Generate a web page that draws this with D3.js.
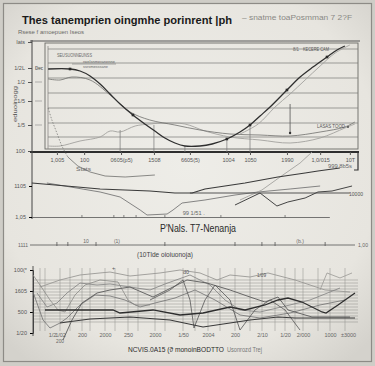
<!DOCTYPE html>
<html><head><meta charset="utf-8">
<script src="https://cdn.jsdelivr.net/npm/d3@7"></script>
<style>html,body{margin:0;padding:0;background:#d8d6d0;} svg{display:block;}</style>
</head><body><svg id="c" width="375" height="366"></svg>
<script>
// ---------------- DATA ----------------
const titleText = "Thes tanemprien oingmhe porinrent |ph";
const subtitleText = "– snatme toaPosmman 7 2?F";
const noteText = "Rsese f amoepuen Iseos";
const unitText = "Iats";
const topYLabel = "eduoinogg";

// top panel
const topYTicks = [1, 27, 51, 70, 84, 110];
const topYTickLabels = ["100", "1/5", "1/5", "1/2", "1/2L", unitText];
const topGrid = [103, 89, 74, 59, 44, 29, 15];
const topXTicks = [3.8, 12.5, 24.3, 34.8, 46.3, 58.5, 65.5, 77.3, 87.9, 97.4];
const topXTickLabels = ["1,005", "100", "0605(p5)", "1508", "6605(5)", "1004", "1050", "1990", "1,0/015", "10T"];

const topMainX = [1.0, 8.0, 11.2, 14.4, 17.6, 20.8, 24.0, 28.1, 31.9, 35.1, 38.3, 41.5, 44.7, 49.5, 53.4, 58.1, 62.3, 65.5, 68.7, 71.9, 77.3, 81.5, 85.6, 90.1, 93.3, 95.8];
const topMainY = [83, 83, 81, 76, 68, 58, 48, 37, 28, 21, 14, 9, 6, 6, 8, 13, 20, 27, 36, 45, 62, 75, 85, 95, 102, 106];
const topGrayBX = [1.0, 4.8, 8.6, 14.4, 20.8, 27.2, 33.5, 41.5, 49.5, 59.1, 68.7, 78.3, 87.9, 95.8, 99.0];
const topGrayBY = [73, 72, 75, 72, 57, 40, 32, 27, 22, 18, 17, 16, 20, 25, 30];
const topGrayCX = [1.0, 4.8, 11.2, 17.6, 20.8, 24.0, 28.8, 33.5, 38.3, 44.7, 51.1, 59.1, 68.7, 78.3, 87.9, 95.8, 99.0];
const topGrayCY = [6, 6, 11, 15, 21, 20, 26, 28, 29, 28, 21, 15, 12, 9, 14, 24, 28];
const topGrayEX = [62.3, 68.1, 73.5, 78.3, 83.1, 87.9, 92.7, 97.4];
const topGrayEY = [18, 28, 45, 58, 72, 86, 99, 107];
const topDashX = [1.0, 2.2, 3.8, 5.4, 7.3];
const topDashY = [44, 32, 19, 6, -5];
const topDropX = [24.0, 34.8, 44.7, 58.1, 65.5];
const topDropY = [22, 27, 6, 13, 27];
const topHangX = [78.3];
const topHangY = [48, 19];
const topMarkX = [8.0, 28.1, 58.1, 65.5, 77.3, 90.1];
const topMarkY = [83, 37, 13, 27, 62, 95];

// middle panel
const midYTicks = [1, 32];
const midYTickLabels = ["1,05", "1105"];
const midM1X = [-4.2, 3.2, 17.6, 33.5, 41.5, 47.0, 51.1, 57.5, 63.9, 74.4, 83.1, 87.2, 94.2];
const midM1Y = [35, 33, 29, 27, 25, 25, 29, 32, 35, 41, 45, 47, 50];
const midM2X = [0.6, 17.6, 24.0, 30.4, 32.6, 39.0, 40.9, 43.8, 51.1, 60.7, 68.1, 78.3, 87.9];
const midM2Y = [35, 26, 21, 8, 3, 4, 8, 15, 18, 23, 26, 29, 32];
const midM3X = [46.3, 97.4];
const midM3Y = [25, 25];
const midM4X = [60.7, 68.7, 74.1, 77.6, 83.1, 87.2, 91.7, 98.1];
const midM4Y = [13, 25, 12, 16, 20, 26, 27, 32];
const midM5X = [62.3, 69.3, 75.1, 81.5, 85.3];
const midM5Y = [18, 28, 41, 55, 66];
const midM7X = [7.3, 10.5, 14.4, 19.2, 25.6, 35.1];
const midM7Y = [61, 52, 46, 42, 41, 43];
const midAxisTicks = [11.8, 22.0, 25.2, 29.1, 38.3, 56.2, 76.7];
const caption1 = "P'Nals. T7-Nenanja";

// scale strip
const stripTicks = [3.8, 7.3, 16.3, 38.3, 60.7, 69.3, 73.5, 89.5];
const stripLabels = ["10", "(1)", "(b.)"];
const stripLabelX = [13.1, 23.0, 81.5];
const caption2 = "(10Tlde oioiuonoja)";

// bottom panel
const botYTicks = [0, 500, 1000, 1500];
const botYTickLabels = ["1/20", "500", "1605", "100(*"];
const botGrid = [1262, 1190, 1119, 1048, 976, 905, 833, 762, 690, 619, 548, 476, 405, 333, 262];
const botXTicks = [19, 27, 49, 72, 95, 122, 150, 175, 202, 229, 252, 270, 297, 315];
const botXTickLabels = ["1/2", "1/02", "200", "2000", "250", "2000", "1/50", "2004", "200", "2/10", "1/20", "2/000", "1000", "±3000"];
const botVGrid = [7, 12, 27, 37, 49, 57, 72, 82, 95, 105, 122, 132, 150, 162, 175, 187, 202, 217, 229, 242, 252, 262, 270, 285, 297, 312];
const botAX = [7, 27, 47, 67, 77, 97, 107, 127, 147, 167, 184, 197, 217, 235, 262, 292, 317];
const botAY = [1095, 1262, 1381, 1429, 1452, 1357, 1381, 1429, 1500, 1429, 1262, 1381, 1333, 1429, 1262, 1024, 976];
const botBX = [12, 37, 80, 87, 120, 147, 170, 197, 212, 232, 245, 255, 269, 289, 293, 305, 322];
const botBY = [548, 548, 548, 476, 548, 429, 476, 619, 548, 667, 786, 833, 738, 500, 476, 667, 952];
const botCX = [27, 34, 57, 97, 137, 170, 197, 217, 245, 262, 322];
const botCY = [238, 262, 333, 381, 310, 143, 238, 310, 381, 357, 357];
const botDX = [30, 39, 49, 64, 77, 97, 120, 154, 174, 197, 217, 232, 245, 255, 279, 317];
const botDY = [-167, 310, 714, 952, 1024, 1095, 857, 1262, 1190, 1024, 857, 738, 857, 548, 381, 381];
const botEX = [0, 10, 17, 27, 34, 47, 62, 77, 92, 107, 122, 142, 162, 182, 207, 227, 257, 287, 312];
const botEY = [976, 310, 119, 238, 357, 667, 905, 881, 786, 619, 714, 833, 1024, 786, 429, 357, 476, 667, 786];
const botFX = [4, 14, 24, 34, 47, 64, 77, 97, 117, 132, 157, 177, 192, 207, 227, 257, 277, 307];
const botFY = [952, 619, 714, 952, 1190, 1143, 1167, 1095, 1024, 1167, 1381, 1143, 786, 548, 500, 667, 786, 1071];
const botGX = [117, 137, 150, 157, 161, 172, 182, 197, 207, 222, 237, 252, 267];
const botGY = [786, 1024, 1262, 786, 119, 786, 1143, 786, 71, 548, 786, 548, 71];
const botHX = [0, 7, 17, 25, 32, 42, 52, 67, 85, 95, 102, 117];
const botHY = [1381, 1143, 786, 548, 500, 905, 1143, 1262, 1214, 786, 667, 667];
const botIX = [287, 294, 307, 319];
const botIY = [1024, 1429, 1310, 1429];
const caption3a = "NCVIS.0A15 (ϑ monoinBODTTO";
const caption3b = "Usonrozd Trej";

// ---------------- DRAW ----------------
const svg = d3.select("#c");
const defs = svg.append("defs");
const rg = defs.append("radialGradient").attr("id", "bg").attr("cx", "50%").attr("cy", "45%").attr("r", "70%");
rg.append("stop").attr("offset", "0%").attr("stop-color", "#eeede8");
rg.append("stop").attr("offset", "75%").attr("stop-color", "#e7e5df");
rg.append("stop").attr("offset", "100%").attr("stop-color", "#d4d2cc");

svg.append("rect").attr("width", 375).attr("height", 366).attr("fill", "#cfcdc7");
svg.append("rect").attr("x", 3.5).attr("y", 3.5).attr("width", 368).attr("height", 358)
  .attr("fill", "url(#bg)").attr("stroke", "#8d8b86").attr("stroke-width", 1.2);

const FONT = "'Liberation Sans', Arial, sans-serif";
const dark = "#333", mid = "#6f6f6c", light = "#a3a29e";

function txt(x, y, s, size, color, len, opts = {}) {
  const t = svg.append("text").attr("x", x).attr("y", y).text(s)
    .attr("font-family", FONT).attr("font-size", size).attr("fill", color)
    .attr("font-weight", opts.bold ? "bold" : "normal")
    .attr("text-anchor", opts.anchor || "start");
  if (len) t.attr("textLength", len).attr("lengthAdjust", "spacingAndGlyphs");
  return t;
}
const zip = (xs, ys) => xs.map((x, i) => [x, ys[i]]);

// Title etc.
txt(22, 24, titleText, 11.3, "#1a1a1a", 210, { bold: true });
txt(242, 20, subtitleText, 6.5, "#8a8985", 110);
txt(18, 34, noteText, 6, "#6a6a66", 66);

// ---------- top panel ----------
const xT = d3.scaleLinear().domain([0, 100]).range([45, 358]);
const yT = d3.scaleLinear().domain([0, 110]).range([152, 42]);
const gT = svg.append("g");

gT.append("line").attr("x1", 30).attr("x2", 360).attr("y1", 41).attr("y2", 41).attr("stroke", "#555").attr("stroke-width", 1);
gT.append("rect").attr("x", xT(0)).attr("y", 43).attr("width", xT(100) - xT(0)).attr("height", 106).attr("fill", "none").attr("stroke", "#6a6a66").attr("stroke-width", 0.9);
gT.append("line").attr("x1", 48).attr("x2", 48).attr("y1", 46).attr("y2", 149).attr("stroke", "#8a8985").attr("stroke-width", 0.8);
gT.selectAll(".tg").data(topGrid).join("line")
  .attr("x1", 48).attr("x2", xT(100)).attr("y1", d => yT(d)).attr("y2", d => yT(d))
  .attr("stroke", "#7a7975").attr("stroke-width", 0.7);
svg.append("line").attr("x1", 32).attr("x2", 32).attr("y1", 40).attr("y2", 219).attr("stroke", "#444").attr("stroke-width", 1);
const yAxT = d3.axisLeft(yT).tickValues(topYTicks).tickFormat((d, i) => topYTickLabels[i]).tickSize(4);
const ga = gT.append("g").attr("transform", "translate(32,0)").call(yAxT);
ga.select(".domain").remove();
ga.selectAll("text").attr("font-family", FONT).attr("font-size", 5.5).attr("fill", "#555");
ga.selectAll("line").attr("stroke", "#555");
gT.selectAll(".dash").data(topYTicks.slice(1, 5)).join("line")
  .attr("x1", 35).attr("x2", 42).attr("y1", d => yT(d)).attr("y2", d => yT(d)).attr("stroke", "#888").attr("stroke-width", 0.6);
txt(35, yT(84) + 2, "Dec", 4.5, "#555", 8);
svg.append("text").attr("transform", "translate(17,104) rotate(-90)").text(topYLabel)
  .attr("font-family", FONT).attr("font-size", 6).attr("fill", "#555").attr("text-anchor", "middle")
  .attr("textLength", 36).attr("lengthAdjust", "spacingAndGlyphs");
gT.append("line").attr("x1", 30).attr("x2", 359).attr("y1", 152).attr("y2", 152).attr("stroke", "#2e2e2e").attr("stroke-width", 2);
const xAxT = d3.axisBottom(xT).tickValues(topXTicks).tickFormat((d, i) => topXTickLabels[i]).tickSize(3);
const gxa = gT.append("g").attr("transform", "translate(0,152)").call(xAxT);
gxa.select(".domain").remove();
gxa.selectAll("text").attr("font-family", FONT).attr("font-size", 5.5).attr("fill", "#555");
gxa.selectAll("line").attr("stroke", "#555");
gT.append("path").attr("d", "M358,152 V170 H354").attr("fill", "none").attr("stroke", "#333").attr("stroke-width", 1.2);

const lT = d3.line().x(d => xT(d[0])).y(d => yT(d[1])).curve(d3.curveCatmullRom.alpha(0.5));
gT.append("path").datum(zip(topGrayCX, topGrayCY)).attr("d", lT).attr("fill", "none").attr("stroke", light).attr("stroke-width", 0.9);
gT.append("path").datum(zip(topGrayBX, topGrayBY)).attr("d", lT).attr("fill", "none").attr("stroke", mid).attr("stroke-width", 0.8);
gT.append("path").datum(zip(topGrayEX, topGrayEY)).attr("d", lT).attr("fill", "none").attr("stroke", light).attr("stroke-width", 0.9);
gT.append("path").datum(zip(topDashX, topDashY)).attr("d", lT).attr("fill", "none").attr("stroke", mid).attr("stroke-width", 0.7).attr("stroke-dasharray", "1.5,1.5");
gT.selectAll(".drop").data(zip(topDropX, topDropY)).join("line")
  .attr("x1", d => xT(d[0])).attr("x2", d => xT(d[0])).attr("y1", d => yT(d[1])).attr("y2", 152)
  .attr("stroke", "#777").attr("stroke-width", 0.7);
gT.append("line").attr("x1", xT(topHangX[0])).attr("x2", xT(topHangX[0])).attr("y1", yT(topHangY[0])).attr("y2", yT(topHangY[1])).attr("stroke", "#555").attr("stroke-width", 0.8);
gT.append("circle").attr("cx", xT(topHangX[0])).attr("cy", yT(topHangY[1])).attr("r", 1.2).attr("fill", "#333");
gT.append("path").datum(zip(topMainX, topMainY)).attr("d", lT).attr("fill", "none").attr("stroke", "#2f2f2f").attr("stroke-width", 1.3);
gT.selectAll(".mk").data(zip(topMarkX, topMarkY)).join("rect")
  .attr("x", d => xT(d[0]) - 1.3).attr("y", d => yT(d[1]) - 1.3).attr("width", 2.6).attr("height", 2.6).attr("fill", "#2a2a2a");

txt(57, 57, "SEUSUONNEUNSS", 4.5, "#666", 35);
gT.append("line").attr("x1", 72).attr("x2", 116).attr("y1", 64).attr("y2", 64).attr("stroke", "#777").attr("stroke-width", 0.6);
txt(83, 63, "rwelsnmeranenne", 4, "#666", 32);
txt(83, 68, "ssrsmesssane", 4, "#666", 25);
txt(293, 51, "8/1", 4.5, "#666", 6);
txt(303, 51, "KECERE CAM", 4.5, "#555", 26);
txt(317, 128, "LASAS TOOD", 4.5, "#555", 28);
gT.append("circle").attr("cx", 348).attr("cy", 127).attr("r", 0.9).attr("fill", "#444");

// ---------- middle panel ----------
const yM = d3.scaleLinear().domain([0, 60]).range([218, 158]);
const gM = svg.append("g");
const lM = d3.line().x(d => xT(d[0])).y(d => yM(d[1])).curve(d3.curveLinear);
const yAxM = d3.axisLeft(yM).tickValues(midYTicks).tickFormat((d, i) => midYTickLabels[i]).tickSize(3);
const gam = gM.append("g").attr("transform", "translate(32,0)").call(yAxM);
gam.select(".domain").remove();
gam.selectAll("text").attr("font-family", FONT).attr("font-size", 5.5).attr("fill", "#555");
gM.append("line").attr("x1", 32).attr("x2", xT(91)).attr("y1", yM(0.5)).attr("y2", yM(0.5)).attr("stroke", "#555").attr("stroke-width", 0.8);
gM.selectAll(".mt").data(midAxisTicks).join("line")
  .attr("x1", d => xT(d)).attr("x2", d => xT(d)).attr("y1", yM(0.5)).attr("y2", yM(0.5) - 2.5).attr("stroke", "#555").attr("stroke-width", 0.7);
txt(xT(44), 215, "99  1/51 .", 4.5, "#666", 22);
gM.append("path").datum(zip(midM7X, midM7Y)).attr("d", lM).attr("fill", "none").attr("stroke", mid).attr("stroke-width", 0.8);
gM.append("path").datum(zip(midM2X, midM2Y)).attr("d", lM).attr("fill", "none").attr("stroke", "#777").attr("stroke-width", 0.9);
gM.append("path").datum(zip(midM5X, midM5Y)).attr("d", lM).attr("fill", "none").attr("stroke", light).attr("stroke-width", 0.9);
gM.append("path").datum(zip(midM3X, midM3Y)).attr("d", lM).attr("fill", "none").attr("stroke", "#555").attr("stroke-width", 1.1);
gM.append("path").datum(zip(midM4X, midM4Y)).attr("d", lM).attr("fill", "none").attr("stroke", "#444").attr("stroke-width", 1);
gM.append("path").datum(zip(midM1X, midM1Y)).attr("d", lM).attr("fill", "none").attr("stroke", "#3a3a3a").attr("stroke-width", 1.2);
txt(76, 171, "Stats", 5, "#666", 15);
txt(328, 168, "999 8b5s", 4.5, "#666", 24);
txt(349, 196, "10000", 4.5, "#555", 14);
txt(198, 232, caption1, 10, "#2a2a2a", 76, { anchor: "middle" });

// ---------- strip ----------
const gS = svg.append("g");
gS.append("line").attr("x1", 30).attr("x2", 355).attr("y1", 245).attr("y2", 245).attr("stroke", "#555").attr("stroke-width", 0.8);
gS.selectAll(".st").data(stripTicks).join("line")
  .attr("x1", d => xT(d)).attr("x2", d => xT(d)).attr("y1", 242).attr("y2", 246).attr("stroke", "#555").attr("stroke-width", 0.8);
gS.selectAll(".sl").data(stripLabels).join("text")
  .attr("x", (d, i) => xT(stripLabelX[i])).attr("y", 243).text(d => d)
  .attr("font-family", FONT).attr("font-size", 5).attr("fill", "#666").attr("text-anchor", "middle");
txt(28, 247, "1111", 5, "#666", 10, { anchor: "end" });
txt(358, 247, "1,00", 5, "#666", 10);
txt(137, 257, caption2, 7.5, "#444", 56);

// ---------- bottom panel ----------
const xB = d3.scaleLinear().domain([0, 325]).range([33, 358]);
const yB = d3.scaleLinear().domain([0, 1500]).range([333, 270]);
const gB = svg.append("g");
gB.selectAll(".bh").data(botGrid).join("line")
  .attr("x1", 33).attr("x2", xB(325)).attr("y1", d => yB(d)).attr("y2", d => yB(d))
  .attr("stroke", "#8e8d89").attr("stroke-width", 0.5);
gB.selectAll(".bv").data(botVGrid).join("line")
  .attr("x1", d => xB(d)).attr("x2", d => xB(d)).attr("y1", 268).attr("y2", 331)
  .attr("stroke", "#8e8d89").attr("stroke-width", 0.5);
const yAxB = d3.axisLeft(yB).tickValues(botYTicks).tickFormat((d, i) => botYTickLabels[i]).tickSize(3);
const gab = gB.append("g").attr("transform", "translate(33,0)").call(yAxB);
gab.select(".domain").attr("stroke", "#444");
gab.selectAll("text").attr("font-family", FONT).attr("font-size", 5.5).attr("fill", "#555");
gB.append("line").attr("x1", 33).attr("x2", 33).attr("y1", 266).attr("y2", 336).attr("stroke", "#444").attr("stroke-width", 0.9);
const xAxB = d3.axisBottom(xB).tickValues(botXTicks).tickFormat((d, i) => botXTickLabels[i]).tickSize(0);
const gxb = gB.append("g").attr("transform", "translate(0,330)").call(xAxB);
gxb.select(".domain").remove();
gxb.selectAll("text").attr("font-family", FONT).attr("font-size", 5.5).attr("fill", "#666");
txt(xB(27), 343, "200", 5, "#666", 8, { anchor: "middle" });

const lB = d3.line().x(d => xB(d[0])).y(d => yB(d[1]));
const bSeries = [
  [botAX, botAY, "#9a9995", 0.9],
  [botFX, botFY, "#808080", 0.8],
  [botEX, botEY, "#707070", 0.8],
  [botHX, botHY, "#8a8a86", 0.8],
  [botDX, botDY, "#5a5a5a", 0.9],
  [botGX, botGY, "#555", 0.8],
  [botIX, botIY, "#9a9995", 0.8],
  [botCX, botCY, "#3a3a3a", 1.2],
  [botBX, botBY, "#2e2e2e", 1.3]
];
bSeries.forEach(s => {
  gB.append("path").datum(zip(s[0], s[1])).attr("d", lB).attr("fill", "none")
    .attr("stroke", s[2]).attr("stroke-width", s[3]);
});
txt(xB(150), 274, "d0", 4.5, "#555", 6);
txt(xB(224), 277, "1/09", 4.5, "#555", 9);
txt(xB(79), 270, "+", 5, "#555", 3);

txt(128, 352, caption3a, 7, "#2a2a2a", 96);
txt(227, 352, caption3b, 6.5, "#777", 35);
</script></body></html>
